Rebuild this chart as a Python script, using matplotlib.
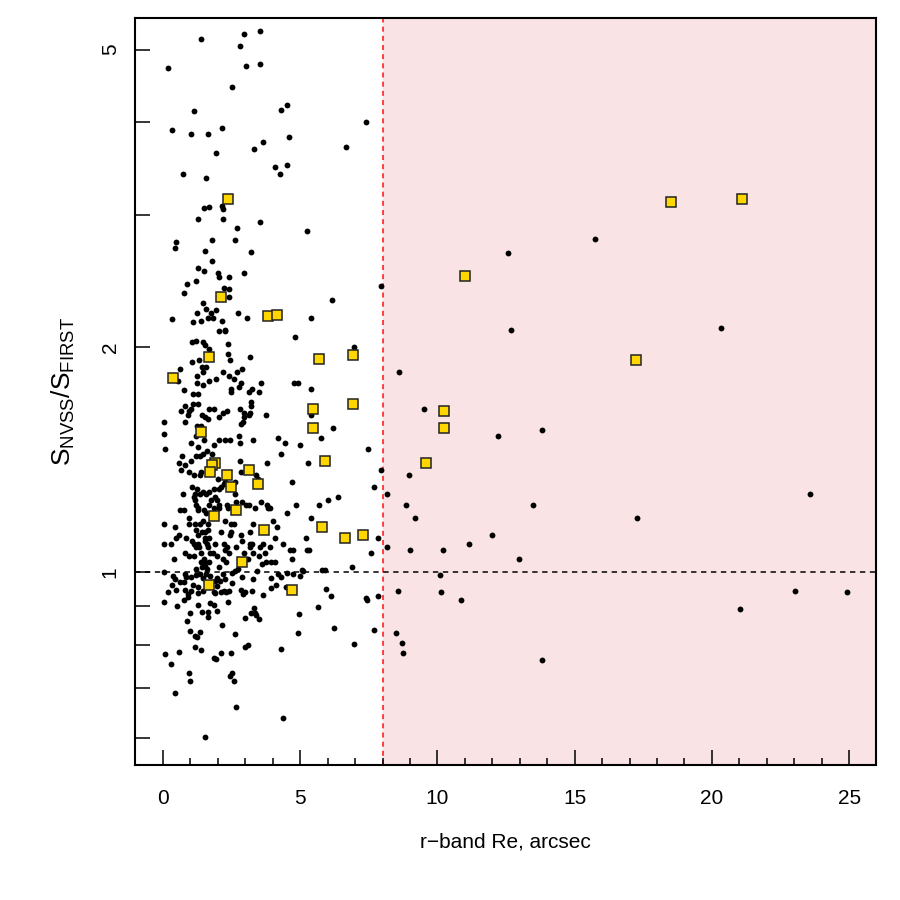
import matplotlib
matplotlib.use('Agg')
import matplotlib.pyplot as plt
from matplotlib.ticker import FixedLocator, NullFormatter, FixedFormatter

plt.rcParams['font.family'] = ['Liberation Sans', 'DejaVu Sans']

# puntos negros: Re (arcsec) y cociente S_NVSS/S_FIRST
dot_re = [
    1.40, 2.94, 3.52, 2.82, 0.18, 3.04, 3.52, 2.53, 1.14, 0.32, 1.03, 1.65, 2.16, 3.64, 3.32, 1.92, 0.73, 1.57,
    4.52, 4.30, 7.41, 4.59, 6.66, 4.09, 4.51, 4.27,
    1.49, 1.67, 2.14, 2.20, 1.28, 2.19, 2.70, 3.52, 0.47, 0.44, 1.79, 2.62, 1.52, 3.20, 1.80, 1.28, 1.51, 1.99,
    2.04, 2.39, 2.96, 0.89, 1.21, 0.78, 2.23, 2.41, 2.39, 1.47, 1.56, 1.23, 1.75, 1.94, 1.65, 1.81, 1.40, 1.08,
    0.33, 2.14, 2.73, 3.06, 2.27,
    2.05, 2.26, 1.07, 1.19, 1.47, 1.52, 1.69, 2.36, 2.37, 3.16, 1.06, 1.30, 2.45, 0.63, 0.55, 1.41, 1.57, 1.46,
    1.23, 2.19, 2.39, 1.94, 1.68, 2.59, 2.69, 2.89, 1.25, 1.46, 2.85, 2.77, 3.24, 3.56, 3.12, 3.49, 0.75, 2.47,
    2.48, 1.10, 1.26, 1.09, 1.29, 0.80, 3.22, 3.21, 1.02, 0.96, 1.69, 1.86, 0.65, 1.41, 1.54, 1.64, 0.91, 2.82,
    2.94, 3.13, 3.17, 3.75, 2.18, 2.32, 2.04, 0.80, 0.02, 1.25, 1.40, 2.90, 2.84, 2.94,
    0.04, 1.20, 1.48, 1.01, 1.26, 1.85, 2.04, 2.26, 2.44, 2.76, 2.81, 3.28, 0.07, 0.70, 1.20, 1.35, 1.47, 1.60,
    1.77, 1.01, 0.57, 0.81, 0.65, 0.95, 1.40, 1.36, 1.13, 2.81, 3.78, 2.85, 3.39, 3.46, 1.99, 2.21, 2.26, 2.63,
    2.62, 1.06, 1.24, 1.36, 1.17, 1.14, 1.18, 1.47, 1.56, 1.68, 1.86, 2.04, 2.12, 0.74, 1.75, 1.90, 1.98, 2.03,
    2.05, 1.69, 1.21, 1.26, 1.29, 2.32, 2.36, 2.67, 2.87, 3.01, 3.15, 3.34, 3.56, 3.78, 3.83, 0.62, 0.78, 1.49,
    1.58, 1.85, 0.96,
    0.02, 0.43, 0.94, 1.17, 1.35, 1.46, 1.65, 2.26, 2.47, 2.60, 3.29, 0.57, 0.48, 1.20, 1.41, 1.54, 1.63, 1.29,
    1.54, 1.67, 1.53, 2.11, 2.48, 2.44, 3.16, 2.83, 2.87, 0.03, 0.28, 0.85, 1.07, 1.14, 1.29, 1.19, 1.32, 1.59,
    1.63, 1.71, 1.90, 2.23, 2.33, 2.26, 2.42, 2.66, 3.17, 3.18, 3.25, 3.52, 3.64, 2.94, 0.79, 0.96, 0.41, 1.13,
    1.37, 1.81, 1.97, 1.48, 1.38, 1.53, 1.69, 2.20, 2.30, 3.10, 3.29, 3.50, 3.61, 3.74, 3.71, 3.44, 2.62, 2.53,
    2.74, 1.19, 1.41, 1.53, 1.61, 2.04, 0.02, 0.36, 0.43, 0.80, 0.85, 1.02, 1.19, 1.36, 1.47, 1.57, 1.72, 1.96,
    2.19, 2.25, 0.75, 0.63, 1.91, 2.07, 1.98, 2.88, 3.28, 0.34, 1.09, 1.26, 2.21, 2.11, 2.50, 2.42, 2.30, 2.84,
    2.99, 2.92, 0.48, 0.18, 0.80, 0.90, 1.01, 1.46, 1.29, 1.86, 1.91, 3.25, 3.63, 0.77, 0.92, 0.02, 0.51, 1.29,
    1.71, 1.85, 2.38, 3.33,
    0.99, 1.41, 1.63, 1.96, 1.63, 0.89, 2.16, 2.98, 3.21, 3.36, 3.40, 3.49, 0.97, 1.35, 1.18, 1.24, 2.63, 0.06,
    0.57, 1.18, 1.38, 1.86, 1.94, 2.12, 2.47, 3.00, 3.10, 0.29, 0.96, 0.99, 2.43, 2.50, 2.60, 0.45, 2.67, 1.52,
    5.24, 7.94, 6.15, 5.39, 4.81, 6.95, 8.60, 4.77, 4.93, 5.40, 5.40,
    6.18, 5.75, 4.18, 4.45, 4.99, 4.30, 5.27, 7.46, 7.93, 4.70, 7.68, 8.17, 6.01, 6.38, 5.70, 4.85, 4.51, 3.90,
    5.40, 4.02, 4.17, 7.84, 4.07, 5.20, 8.17, 4.38, 4.64, 4.73, 5.25, 5.32, 4.71, 7.58, 3.90, 3.95, 4.09, 6.89,
    5.81, 5.89, 5.07, 5.11, 4.99, 4.20, 4.30, 4.51, 4.75, 3.94, 4.11, 4.48, 3.94, 5.95, 6.12, 7.41, 7.82, 8.56,
    7.42, 4.95, 5.65, 4.92, 6.24, 7.68, 8.50, 4.30, 6.96, 4.36,
    15.75, 12.56, 12.67, 20.32, 9.50, 12.20, 13.81, 8.98, 8.86, 13.47, 23.59, 9.18, 17.26, 11.99, 8.99, 10.21,
    11.15, 12.96, 10.11, 10.13, 10.86, 23.04, 24.94, 21.02, 8.70, 8.76, 13.81,
]
dot_ratio = [
    5.16, 5.24, 5.30, 5.05, 4.72, 4.75, 4.78, 4.46, 4.14, 3.90, 3.86, 3.85, 3.93, 3.76, 3.68, 3.64, 3.41, 3.37,
    4.21, 4.15, 4.00, 3.82, 3.70, 3.48, 3.50, 3.41,
    3.07, 3.08, 3.09, 3.06, 2.97, 2.97, 2.89, 2.94, 2.76, 2.71, 2.78, 2.78, 2.69, 2.68, 2.61, 2.55, 2.53, 2.51,
    2.48, 2.48, 2.51, 2.43, 2.45, 2.36, 2.40, 2.39, 2.33, 2.29, 2.25, 2.22, 2.22, 2.24, 2.19, 2.19, 2.17, 2.16,
    2.18, 2.17, 2.22, 2.19, 2.11,
    2.10, 2.10, 2.03, 2.04, 2.03, 2.01, 1.99, 2.02, 1.96, 1.94, 1.91, 1.92, 1.92, 1.87, 1.80, 1.88, 1.88, 1.85,
    1.83, 1.85, 1.83, 1.81, 1.80, 1.81, 1.85, 1.87, 1.79, 1.78, 1.79, 1.77, 1.76, 1.79, 1.74, 1.74, 1.75, 1.76,
    1.74, 1.73, 1.73, 1.68, 1.68, 1.67, 1.69, 1.67, 1.65, 1.64, 1.65, 1.65, 1.64, 1.62, 1.61, 1.60, 1.62, 1.65,
    1.63, 1.62, 1.63, 1.62, 1.63, 1.64, 1.61, 1.59, 1.59, 1.57, 1.57, 1.59, 1.58, 1.61,
    1.53, 1.52, 1.50, 1.49, 1.47, 1.48, 1.50, 1.50, 1.50, 1.52, 1.49, 1.50, 1.46, 1.43, 1.43, 1.43, 1.44, 1.45,
    1.44, 1.41, 1.40, 1.39, 1.37, 1.36, 1.36, 1.35, 1.35, 1.41, 1.40, 1.36, 1.35, 1.33, 1.33, 1.31, 1.32, 1.32,
    1.27, 1.30, 1.29, 1.27, 1.27, 1.26, 1.25, 1.28, 1.27, 1.28, 1.29, 1.29, 1.30, 1.27, 1.25, 1.26, 1.25, 1.23,
    1.22, 1.23, 1.23, 1.22, 1.21, 1.23, 1.22, 1.24, 1.24, 1.23, 1.23, 1.22, 1.24, 1.23, 1.22, 1.21, 1.21, 1.21,
    1.20, 1.22, 1.18,
    1.16, 1.15, 1.16, 1.16, 1.16, 1.17, 1.16, 1.17, 1.16, 1.16, 1.16, 1.12, 1.11, 1.14, 1.13, 1.13, 1.14, 1.12,
    1.11, 1.11, 1.10, 1.13, 1.13, 1.12, 1.13, 1.12, 1.10, 1.09, 1.09, 1.11, 1.10, 1.09, 1.09, 1.08, 1.08, 1.09,
    1.08, 1.06, 1.09, 1.09, 1.08, 1.07, 1.06, 1.08, 1.09, 1.08, 1.09, 1.08, 1.09, 1.06, 1.06, 1.05, 1.04, 1.05,
    1.06, 1.06, 1.05, 1.04, 1.03, 1.03, 1.03, 1.04, 1.03, 1.04, 1.06, 1.05, 1.025, 1.03, 1.06, 1.004, 1.004, 0.996,
    1.008, 1.008, 1.015, 1.018, 1.008, 1.015, 1.0, 0.988, 0.978, 0.993, 0.984, 0.985, 0.992, 0.994, 0.981, 0.993, 0.988, 0.981,
    0.994, 0.979, 0.969, 0.969, 0.973, 0.973, 0.958, 0.984, 0.978, 0.962, 0.961, 0.956, 0.943, 0.941, 0.967, 0.943, 0.940, 0.946,
    0.941, 0.936, 0.947, 0.940, 0.946, 0.936, 0.942, 0.944, 0.938, 0.940, 0.937, 0.943, 0.932, 0.918, 0.925, 0.911, 0.901, 0.903,
    0.910, 0.904, 0.912, 0.894,
    0.882, 0.884, 0.884, 0.887, 0.870, 0.859, 0.850, 0.868, 0.881, 0.882, 0.876, 0.865, 0.834, 0.832, 0.821, 0.820, 0.827, 0.776,
    0.781, 0.794, 0.786, 0.767, 0.765, 0.779, 0.779, 0.794, 0.798, 0.753, 0.732, 0.715, 0.727, 0.732, 0.715, 0.688, 0.659, 0.601,
    2.86, 2.41, 2.31, 2.19, 2.06, 2.00, 1.85, 1.79, 1.79, 1.76, 1.62,
    1.56, 1.51, 1.51, 1.49, 1.48, 1.44, 1.40, 1.46, 1.37, 1.32, 1.30, 1.27, 1.25, 1.26, 1.23, 1.23, 1.20, 1.22,
    1.18, 1.17, 1.15, 1.11, 1.11, 1.11, 1.08, 1.09, 1.07, 1.07, 1.07, 1.07, 1.04, 1.06, 1.08, 1.03, 1.03, 1.015,
    1.007, 1.006, 1.006, 1.004, 0.989, 0.994, 0.986, 0.997, 0.994, 0.982, 0.960, 0.954, 0.951, 0.950, 0.930, 0.922, 0.928, 0.943,
    0.917, 0.878, 0.898, 0.829, 0.843, 0.837, 0.829, 0.788, 0.801, 0.637,
    2.79, 2.67, 2.11, 2.12, 1.65, 1.52, 1.55, 1.35, 1.23, 1.23, 1.27, 1.18, 1.18, 1.12, 1.07, 1.07,
    1.09, 1.04, 0.992, 0.941, 0.917, 0.942, 0.941, 0.893, 0.803, 0.779, 0.763,
]

# cuadrados amarillos
sq_re = [2.38, 2.10, 3.83, 4.17, 1.67, 0.38, 1.40, 1.91, 1.79, 1.71, 3.13, 2.34, 2.47, 3.47, 2.66, 1.86, 3.67, 2.88,
         1.67, 4.71, 5.69, 6.94, 5.47, 6.92, 5.46, 5.90, 5.81, 6.62, 7.30, 18.50, 21.11, 10.99, 17.23, 10.25, 10.24, 9.57]
sq_ratio = [3.16, 2.33, 2.20, 2.21, 1.94, 1.82, 1.54, 1.40, 1.39, 1.36, 1.37, 1.35, 1.30, 1.31, 1.21, 1.19, 1.14, 1.03,
            0.96, 0.947, 1.93, 1.95, 1.65, 1.68, 1.56, 1.41, 1.15, 1.11, 1.12, 3.13, 3.16, 2.49, 1.92, 1.64, 1.56, 1.40]

x_major = [0, 5, 10, 15, 20, 25]
x_minor = list(range(0, 26))
y_ticks = [0.6, 0.7, 0.8, 0.9, 1, 2, 3, 4, 5]
y_labels = ['', '', '', '', '1', '2', '', '', '5']
corte_re = 8

fig = plt.figure(figsize=(9, 9), dpi=100)
ax = fig.add_axes([0.15, 0.15, 0.8233, 0.83])

ax.set_xlim(-1.02, 25.98)
ax.set_yscale('log')
ax.set_ylim(0.552, 5.51)

# zona sombreada y lineas de referencia
ax.axvspan(corte_re, 25.98, color='#f9e3e4', zorder=0, lw=0)
ax.axvline(corte_re, color='#ff2020', ls=(0, (3, 2.5)), lw=1.2, zorder=1)
ax.axhline(1, color='black', ls=(0, (3.5, 3)), lw=1.1, zorder=1)

ax.plot(dot_re, dot_ratio, 'o', color='black', ms=4.2, mew=0, zorder=2)
ax.plot(sq_re, sq_ratio, 's', mfc='#ffd700', mec='#222222', mew=1.1, ms=6.5, zorder=3)

ax.xaxis.set_major_locator(FixedLocator(x_major))
ax.xaxis.set_minor_locator(FixedLocator(x_minor))
ax.yaxis.set_major_locator(FixedLocator(y_ticks))
ax.yaxis.set_major_formatter(FixedFormatter(y_labels))
ax.yaxis.set_minor_locator(FixedLocator([]))
ax.yaxis.set_minor_formatter(NullFormatter())

ax.tick_params(axis='both', which='major', direction='in', length=10.5, width=1.1, labelsize=15)
ax.tick_params(axis='x', which='major', pad=17)
ax.tick_params(axis='y', which='major', pad=11)
ax.tick_params(axis='x', which='minor', direction='in', length=5, width=1.1)
for lab in ax.get_yticklabels():
    lab.set_rotation(90)
    lab.set_va('center')

for s in ax.spines.values():
    s.set_linewidth(1.5)

ax.set_xlabel('r\u2212band Re, arcsec', fontsize=15, labelpad=18)
ax.set_ylabel(r'$\mathregular{S_{NVSS}/S_{FIRST}}$', fontsize=19, labelpad=17)

fig.savefig('out.png', dpi=100)
